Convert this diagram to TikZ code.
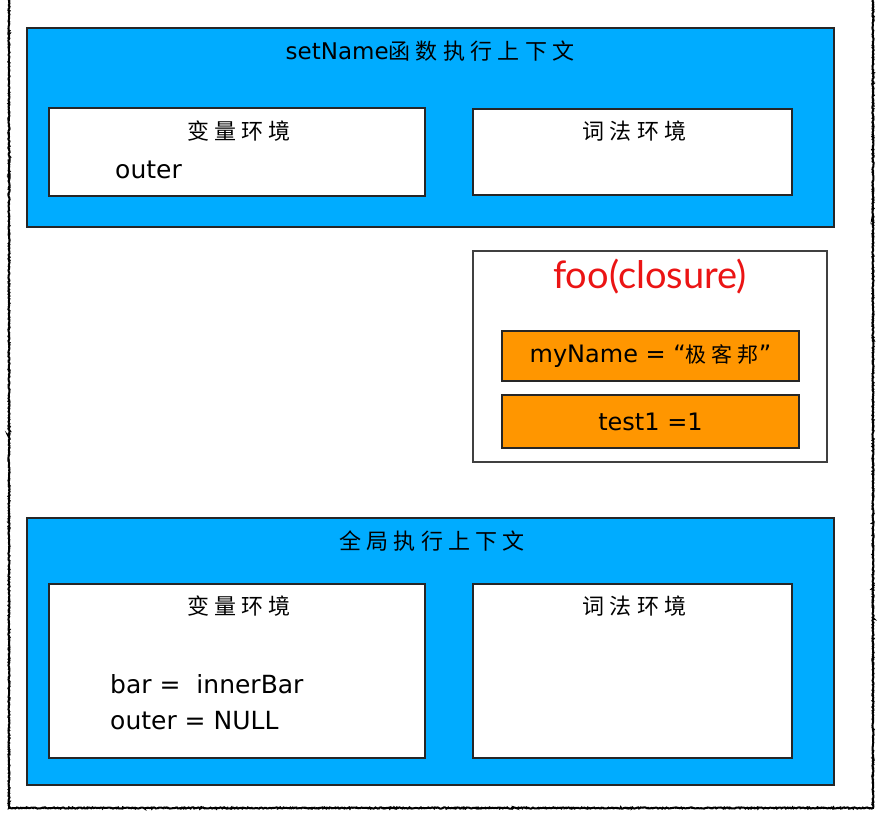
\documentclass[tikz,border=0pt]{standalone}
\usepackage{fontspec}
\setmainfont{DejaVu Sans}
\newfontfamily\cjk[LetterSpace=24]{Noto Sans CJK SC}
\newfontfamily\lato{Lato}
\usetikzlibrary{decorations.pathmorphing}
\definecolor{ctxblue}{RGB}{0,172,255}
\definecolor{slotorange}{RGB}{255,150,0}
\definecolor{closred}{RGB}{235,20,20}

\begin{document}
\begin{tikzpicture}[x=1pt,y=-1pt,node distance=395.5pt,
    ctx/.style={draw=black!85,line width=1.2pt,fill=ctxblue,minimum width=807pt,minimum height=199pt,inner sep=0pt},
    env/.style={draw=black!85,line width=1.2pt,fill=white,minimum width=376pt,minimum height=88pt,inner sep=0pt},
    slot/.style={draw=black!85,line width=1.2pt,fill=slotorange,minimum width=297pt,minimum height=50pt,inner sep=0pt,font=\fontsize{24}{28}\selectfont},
    heading/.style={font=\cjk\fontsize{22}{26}\selectfont,inner sep=0pt},
    word/.style={font=\fontsize{25}{30}\selectfont,inner sep=0pt,anchor=west}]
    \useasboundingbox (0,0) rectangle (879,818);
    \draw[line width=2pt,decorate,decoration={random steps,segment length=1pt,amplitude=0.6pt}] (9,-10) rectangle (873,808);

    \node[ctx] (fnctx) at (430.5,127.5) {};
    \node[heading] (fntitle) at (430,51) {{\rmfamily\fontsize{23}{26}\selectfont setName}函数执行上下文};
    \node[env] (fnvar) at (237,152) {};
    \node[env,minimum width=319pt,minimum height=86pt] (fnlex) [right of=fnvar] {};
    \node[heading] (fnvartitle) at (239,131) {变量环境};
    \node[heading] (fnlextitle) at (634.5,131) {词法环境};
    \node[word] (fnouter) at (115,170) {outer};

    \node[draw=black!75,line width=1.2pt,fill=white,minimum width=354pt,minimum height=211pt] (foo) at (650,356.5) {};
    \node[text=closred,font=\lato\fontsize{38}{44}\selectfont] (footitle) at (650,277) {foo(closure)};
    \node[slot] (myname) at (650.5,356) {myName = “{\cjk\fontsize{21}{24}\selectfont 极客邦}”};
    \node[slot,minimum height=53pt] (test) at (650.5,421.5) {test1 =1};

    \node[ctx,minimum height=267pt] (glctx) at (430.5,651.5) {};
    \node[heading] (gltitle) at (432,541) {全局执行上下文};
    \node[env,minimum height=174pt] (glvar) at (237,671) {};
    \node[env,minimum width=319pt,minimum height=174pt] (gllex) [right of=glvar] {};
    \node[heading] (glvartitle) at (239,606) {变量环境};
    \node[heading] (gllextitle) at (634.5,606) {词法环境};
    \node[word] (glbar) at (110,684) {bar = \ innerBar};
    \node[word] (glouter) at (110,721) {outer = NULL};
\end{tikzpicture}
\end{document}
